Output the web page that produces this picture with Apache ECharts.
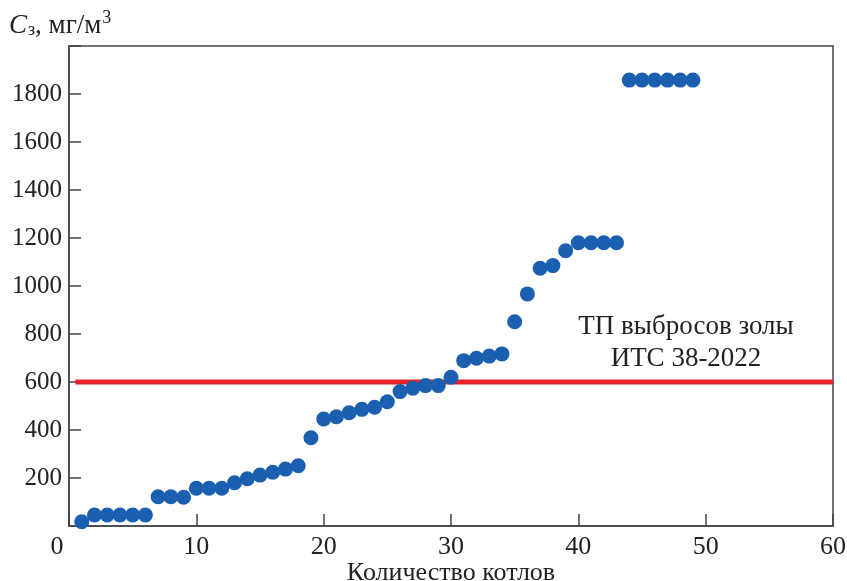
<!DOCTYPE html>
<html>
<head>
<meta charset="utf-8">
<script src="https://cdn.jsdelivr.net/npm/echarts@6/dist/echarts.min.js"></script>
<style>
html,body{margin:0;padding:0;background:#fff;}
#chart{width:847px;height:581px;}
</style>
</head>
<body>
<div id="chart"></div>
<script>
// Boiler index (x) and concentration C_з, mg/m3 (y)
var boilers = [1,2,3,4,5,6,7,8,9,10,11,12,13,14,15,16,17,18,19,20,21,22,23,24,25,26,27,28,29,30,31,32,33,34,35,36,37,38,39,40,41,42,43,44,45,46,47,48,49];
var concentration = [18,46,46,46,46,46,122,122,120,157,157,157,180,197,212,224,237,251,368,446,455,472,486,495,518,560,574,585,585,620,689,699,708,717,851,967,1074,1085,1147,1180,1180,1180,1180,1858,1858,1858,1858,1858,1858];
// Technological standard (ТП) for ash emissions, ИТС 38-2022
var limitX = [0.5, 60];
var limitY = [600, 600];
var xTicks = [0,10,20,30,40,50,60];
var yTicks = [200,400,600,800,1000,1200,1400,1600,1800];

var FONT = '"Liberation Serif","Times New Roman",serif';
var chart = echarts.init(document.getElementById('chart'));
var pts = boilers.map(function(b,i){return [b, concentration[i]];});
var limitLine = limitX.map(function(x,i){return [x, limitY[i]];});

chart.setOption({
  animation:false,
  backgroundColor:'#fff',
  grid:{left:69,right:14,top:46,bottom:55,outerBoundsMode:'none',containLabel:false,show:true,borderColor:'#444',borderWidth:1.5,backgroundColor:'transparent'},
  xAxis:{
    type:'value',min:0,max:60,interval:10,
    name:'Количество котлов',nameLocation:'middle',nameGap:34,nameMoveOverlap:false,
    nameTextStyle:{fontFamily:FONT,fontSize:26,color:'#222'},
    axisLine:{show:true,lineStyle:{color:'#444',width:1.5}},
    axisTick:{show:true,inside:true,length:12,lineStyle:{color:'#444',width:1.5}},
    splitLine:{show:false},
    axisLabel:{
      fontFamily:FONT,fontSize:26,color:'#222',margin:8,
      formatter:function(v){ return xTicks.indexOf(v)>=0 ? (v===0 ? '{z|0}' : String(v)) : ''; },
      rich:{z:{fontFamily:FONT,fontSize:26,color:'#222',padding:[0,24,0,0]}}
    }
  },
  yAxis:{
    type:'value',min:0,max:2000,interval:200,
    axisLine:{show:true,lineStyle:{color:'#444',width:1.5}},
    axisTick:{show:true,inside:true,length:12,lineStyle:{color:'#444',width:1.5}},
    splitLine:{show:false},
    axisLabel:{
      fontFamily:FONT,fontSize:25,color:'#222',margin:7,
      formatter:function(v){ return yTicks.indexOf(v)>=0 ? String(v) : ''; }
    }
  },
  graphic:[
    {type:'text',left:9,top:9,style:{
      text:'{i|C}{s|з}{n|, мг/м}{p|3}',
      rich:{
        i:{fontFamily:FONT,fontSize:27,fontStyle:'italic',fill:'#222',verticalAlign:'bottom',lineHeight:30},
        s:{fontFamily:FONT,fontSize:18,fill:'#222',verticalAlign:'bottom',lineHeight:24,padding:[0,0,0,1]},
        n:{fontFamily:FONT,fontSize:27,fill:'#222',verticalAlign:'bottom',lineHeight:30},
        p:{fontFamily:FONT,fontSize:18,fill:'#222',verticalAlign:'top',lineHeight:30,padding:[0,0,0,1]}
      }
    }},
    {type:'text',x:686,y:311,style:{text:'ТП выбросов золы\nИТС 38-2022',align:'center',fontFamily:FONT,fontSize:27,lineHeight:32,fill:'#222'}}
  ],
  series:[
    {type:'line',data:limitLine,symbol:'none',lineStyle:{color:'#e8202a',width:5},z:1,silent:true},
    {type:'scatter',data:pts,symbol:'circle',symbolSize:15,itemStyle:{color:'#1b5fb0',opacity:1},z:2}
  ]
});
</script>
</body>
</html>
